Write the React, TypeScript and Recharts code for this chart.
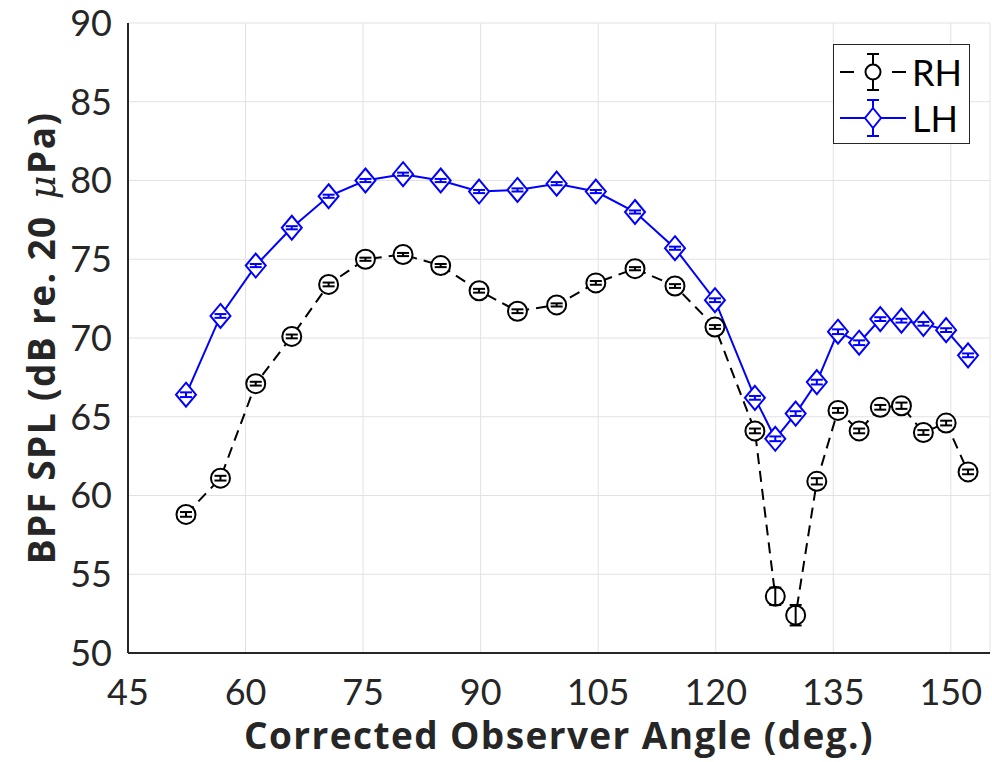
import { LineChart, Line, XAxis, YAxis, CartesianGrid, ErrorBar, Legend } from "recharts";

// observer angles (deg.)
const angles = [
  52.4, 56.8, 61.3, 65.9, 70.6, 75.3, 80.1, 84.9, 89.8, 94.7, 99.7, 104.7, 109.7,
  114.8, 119.9, 125.0, 127.6, 130.2, 132.9, 135.6, 138.3, 141.0, 143.7, 146.5, 149.4, 152.2,
];

// BPF SPL, dB re. 20 uPa
const rhLevel = [
  58.8, 61.1, 67.1, 70.1, 73.4, 75.0, 75.3, 74.6, 73.0, 71.7, 72.1, 73.5, 74.4,
  73.3, 70.7, 64.1, 53.6, 52.4, 60.9, 65.4, 64.1, 65.6, 65.7, 64.0, 64.6, 61.5,
];
const lhLevel = [
  66.4, 71.4, 74.6, 77.0, 79.0, 80.0, 80.4, 80.0, 79.3, 79.4, 79.8, 79.3, 78.0,
  75.7, 72.4, 66.2, 63.6, 65.2, 67.2, 70.4, 69.7, 71.2, 71.1, 70.9, 70.5, 68.9,
];
const rhError = [
  0.15, 0.15, 0.12, 0.12, 0.12, 0.1, 0.1, 0.1, 0.12, 0.12, 0.1, 0.12, 0.1,
  0.12, 0.12, 0.15, 0.55, 0.65, 0.2, 0.15, 0.15, 0.15, 0.2, 0.15, 0.15, 0.15,
];
const lhError = [
  0.15, 0.12, 0.1, 0.1, 0.1, 0.1, 0.1, 0.1, 0.1, 0.1, 0.1, 0.1, 0.1,
  0.1, 0.12, 0.12, 0.15, 0.15, 0.15, 0.15, 0.15, 0.12, 0.12, 0.12, 0.12, 0.12,
];

const xTicks = [45, 60, 75, 90, 105, 120, 135, 150];
const yTicks = [50, 55, 60, 65, 70, 75, 80, 85, 90];

const data = angles.map((a, i) => ({
  angle: a,
  rh: rhLevel[i],
  lh: lhLevel[i],
  rhErr: rhError[i],
  lhErr: lhError[i],
}));

const FONT = "Lato, 'Open Sans', sans-serif";
const LABEL_FONT = "'Open Sans', Lato, sans-serif";
const AXIS = "#262626";
const BLUE = "#0000ff";

function CircleDot(props: any) {
  const { cx, cy, index } = props;
  if (cx == null || cy == null) return null;
  return <circle key={`rh-${index}`} cx={cx} cy={cy} r={9.5} fill="#fff" stroke="#000" strokeWidth={2} />;
}

function DiamondDot(props: any) {
  const { cx, cy, index } = props;
  if (cx == null || cy == null) return null;
  const d = `M${cx},${cy - 12} L${cx + 10},${cy} L${cx},${cy + 12} L${cx - 10},${cy} Z`;
  return <path key={`lh-${index}`} d={d} fill="#fff" stroke={BLUE} strokeWidth={2} />;
}

function YLabel(props: any) {
  const { viewBox } = props;
  const x = viewBox.x + 45;
  const y = viewBox.y + viewBox.height / 2;
  return (
    <text
      x={x}
      y={y}
      transform={`rotate(-90, ${x}, ${y})`}
      textAnchor="middle"
      dominantBaseline="middle"
      fontFamily={LABEL_FONT}
      fontWeight={700}
      fontSize={37}
      letterSpacing={1.4}
      fill={AXIS}
    >
      BPF SPL (dB re. 20
      <tspan dx={16} fontStyle="italic" fontWeight={400} fontFamily="'DejaVu Serif', serif">μ</tspan>
      <tspan>Pa)</tspan>
    </text>
  );
}

function XLabel(props: any) {
  const { viewBox } = props;
  const x = viewBox.x + viewBox.width / 2;
  return (
    <text
      x={x}
      y={viewBox.y + 96}
      textAnchor="middle"
      fontFamily={LABEL_FONT}
      fontWeight={700}
      fontSize={37}
      letterSpacing={1.4}
      fill={AXIS}
    >
      Corrected Observer Angle (deg.)
    </text>
  );
}

function LegendBox() {
  return (
    <div
      style={{
        width: 135,
        height: 98,
        border: "1px solid #262626",
        background: "#fff",
        fontFamily: FONT,
        fontSize: 36,
        color: "#000",
      }}
    >
      <div style={{ display: "flex", alignItems: "center", height: 46, marginTop: 4 }}>
        <svg width={78} height={46}>
          <line x1={6} y1={23} x2={20} y2={23} stroke="#000" strokeWidth={2} />
          <line x1={58} y1={23} x2={72} y2={23} stroke="#000" strokeWidth={2} />
          <line x1={39} y1={5} x2={39} y2={41} stroke="#000" strokeWidth={2} />
          <line x1={33} y1={5} x2={45} y2={5} stroke="#000" strokeWidth={2} />
          <line x1={33} y1={41} x2={45} y2={41} stroke="#000" strokeWidth={2} />
          <circle cx={39} cy={23} r={7.5} fill="#fff" stroke="#000" strokeWidth={2} />
        </svg>
        <span style={{ marginLeft: 0, lineHeight: "46px" }}>RH</span>
      </div>
      <div style={{ display: "flex", alignItems: "center", height: 46 }}>
        <svg width={78} height={46}>
          <line x1={6} y1={23} x2={72} y2={23} stroke={BLUE} strokeWidth={2} />
          <line x1={39} y1={5} x2={39} y2={41} stroke={BLUE} strokeWidth={2} />
          <line x1={33} y1={5} x2={45} y2={5} stroke={BLUE} strokeWidth={2} />
          <line x1={33} y1={41} x2={45} y2={41} stroke={BLUE} strokeWidth={2} />
          <path d="M39,13 L47,23 L39,33 L31,23 Z" fill="#fff" stroke={BLUE} strokeWidth={2} />
        </svg>
        <span style={{ marginLeft: 0, lineHeight: "46px" }}>LH</span>
      </div>
    </div>
  );
}

export default function App() {
  const tickStyle = { fontFamily: FONT, fontSize: 36, fill: AXIS };
  return (
    <div style={{ position: "absolute", left: 0, top: 0, width: 992, height: 762, background: "#fff" }}>
      <LineChart width={992} height={762} data={data} margin={{ top: 23, right: 2, bottom: 0, left: 0 }}>
        <CartesianGrid stroke="#e2e2e2" strokeWidth={1} />
        <XAxis
          dataKey="angle"
          type="number"
          domain={[45, 155]}
          ticks={xTicks}
          height={109}
          tick={tickStyle}
          tickLine={false}
          tickSize={10}
          tickMargin={16}
          axisLine={{ stroke: AXIS, strokeWidth: 2 }}
          allowDataOverflow
          label={<XLabel />}
        />
        <XAxis
          xAxisId="inner"
          dataKey="angle"
          type="number"
          domain={[45, 155]}
          ticks={xTicks}
          mirror
          height={0}
          tick={false}
          tickSize={10}
          tickLine={{ stroke: AXIS, strokeWidth: 2 }}
          axisLine={false}
        />
        <XAxis
          xAxisId="top"
          orientation="top"
          dataKey="angle"
          type="number"
          domain={[45, 155]}
          ticks={xTicks}
          mirror
          height={0}
          tick={false}
          tickSize={10}
          tickLine={{ stroke: AXIS, strokeWidth: 2 }}
          axisLine={{ stroke: AXIS, strokeWidth: 2 }}
        />
        <YAxis
          type="number"
          domain={[50, 90]}
          ticks={yTicks}
          width={128}
          tick={tickStyle}
          tickLine={false}
          tickSize={6}
          tickMargin={10}
          axisLine={{ stroke: AXIS, strokeWidth: 2 }}
          allowDataOverflow
          label={<YLabel />}
        />
        <YAxis
          yAxisId="inner"
          type="number"
          domain={[50, 90]}
          ticks={yTicks}
          mirror
          width={0}
          tick={false}
          tickSize={10}
          tickLine={{ stroke: AXIS, strokeWidth: 2 }}
          axisLine={false}
        />
        <YAxis
          yAxisId="right"
          orientation="right"
          type="number"
          domain={[50, 90]}
          ticks={yTicks}
          mirror
          width={0}
          tick={false}
          tickSize={10}
          tickLine={{ stroke: AXIS, strokeWidth: 2 }}
          axisLine={{ stroke: AXIS, strokeWidth: 2 }}
        />
        <Line
          dataKey="rh"
          name="RH"
          stroke="#000"
          strokeWidth={2}
          strokeDasharray="11 7"
          dot={<CircleDot />}
          activeDot={false}
          isAnimationActive={false}
        />
        <Line
          dataKey="lh"
          name="LH"
          stroke={BLUE}
          strokeWidth={2}
          dot={<DiamondDot />}
          activeDot={false}
          isAnimationActive={false}
        />
        <Line dataKey="rh" stroke="none" dot={false} activeDot={false} legendType="none" isAnimationActive={false}>
          <ErrorBar dataKey="rhErr" width={6} strokeWidth={2} stroke="#000" direction="y" zIndex={900} />
        </Line>
        <Line dataKey="lh" stroke="none" dot={false} activeDot={false} legendType="none" isAnimationActive={false}>
          <ErrorBar dataKey="lhErr" width={6} strokeWidth={2} stroke={BLUE} direction="y" zIndex={900} />
        </Line>
        <Legend
          layout="vertical"
          align="center"
          verticalAlign="middle"
          content={() => <LegendBox />}
          wrapperStyle={{ left: 833, top: 44, width: 137, height: 100 }}
        />
      </LineChart>
    </div>
  );
}
